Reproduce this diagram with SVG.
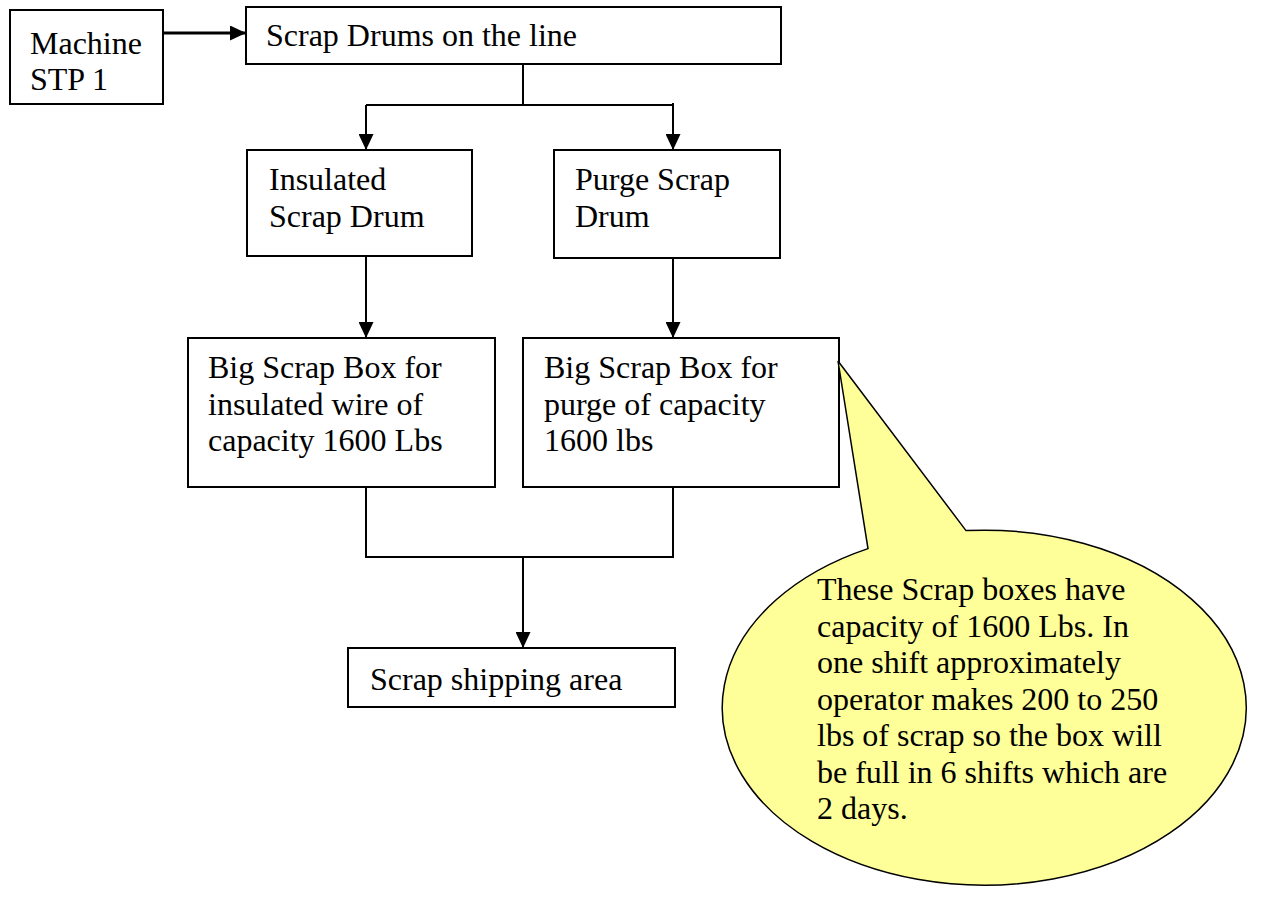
<svg xmlns="http://www.w3.org/2000/svg" width="1269" height="918" viewBox="0 0 1269 918">
<style>
.box{fill:#fff;stroke:#000;stroke-width:2}
.t{font-family:"Liberation Serif","Times New Roman",serif;font-size:32px;fill:#000}
.c{fill:none;stroke:#000;stroke-width:2}
.thick{stroke-width:3}
.call{fill:#FFFF99;stroke:#000;stroke-width:1.5}
</style>
<defs>
<marker id="ah" markerUnits="userSpaceOnUse" markerWidth="16" markerHeight="15" refX="16" refY="7.5" orient="auto">
<path d="M0,0 L16,7.5 L0,15 z" fill="#000"/>
</marker>
</defs>
<rect width="1269" height="918" fill="#fff"/>
<g id="connectors">
<line class="c thick" x1="163" y1="33" x2="246" y2="33" marker-end="url(#ah)"/>
<line class="c" x1="523" y1="64" x2="523" y2="105"/>
<line class="c" x1="366" y1="105" x2="673" y2="105"/>
<line class="c" x1="366" y1="105" x2="366" y2="150" marker-end="url(#ah)"/>
<line class="c" x1="673" y1="103" x2="673" y2="150" marker-end="url(#ah)"/>
<line class="c" x1="366" y1="256" x2="366" y2="338" marker-end="url(#ah)"/>
<line class="c" x1="673" y1="258" x2="673" y2="338" marker-end="url(#ah)"/>
<polyline class="c" points="366,487 366,557 673,557 673,487"/>
<line class="c" x1="523" y1="557" x2="523" y2="648" marker-end="url(#ah)"/>
</g>
<g id="machine">
<rect class="box" x="10" y="10" width="153" height="94"/>
<text class="t" x="30" y="54">Machine</text>
<text class="t" x="30" y="90">STP 1</text>
</g>
<g id="scrap-drums">
<rect class="box" x="246" y="7" width="535" height="57"/>
<text class="t" x="266" y="46">Scrap Drums on the line</text>
</g>
<g id="insulated-drum">
<rect class="box" x="247" y="150" width="225" height="106"/>
<text class="t" x="269" y="190">Insulated</text>
<text class="t" x="269" y="227">Scrap Drum</text>
</g>
<g id="purge-drum">
<rect class="box" x="554" y="150" width="226" height="108"/>
<text class="t" x="575" y="190">Purge Scrap</text>
<text class="t" x="575" y="227">Drum</text>
</g>
<g id="big-box-insulated">
<rect class="box" x="188" y="338" width="307" height="149"/>
<text class="t" x="208" y="378">Big Scrap Box for</text>
<text class="t" x="208" y="415">insulated wire of</text>
<text class="t" x="208" y="451">capacity 1600 Lbs</text>
</g>
<g id="big-box-purge">
<rect class="box" x="523" y="338" width="316" height="149"/>
<text class="t" x="544" y="378">Big Scrap Box for</text>
<text class="t" x="544" y="415">purge of capacity</text>
<text class="t" x="544" y="451">1600 lbs</text>
</g>
<g id="shipping">
<rect class="box" x="348" y="648" width="327" height="59"/>
<text class="t" x="370" y="690">Scrap shipping area</text>
</g>
<g id="callout">
<path class="call" d="M966,530.6 A262,177.5 0 1 1 868,548.6 L838,361 Z"/>
<text class="t" x="817" y="600">These Scrap boxes have</text>
<text class="t" x="817" y="637">capacity of 1600 Lbs. In</text>
<text class="t" x="817" y="673">one shift approximately</text>
<text class="t" x="817" y="710">operator makes 200 to 250</text>
<text class="t" x="817" y="746">lbs of scrap so the box will</text>
<text class="t" x="817" y="783">be full in 6 shifts which are</text>
<text class="t" x="817" y="819">2 days.</text>
</g>
</svg>
